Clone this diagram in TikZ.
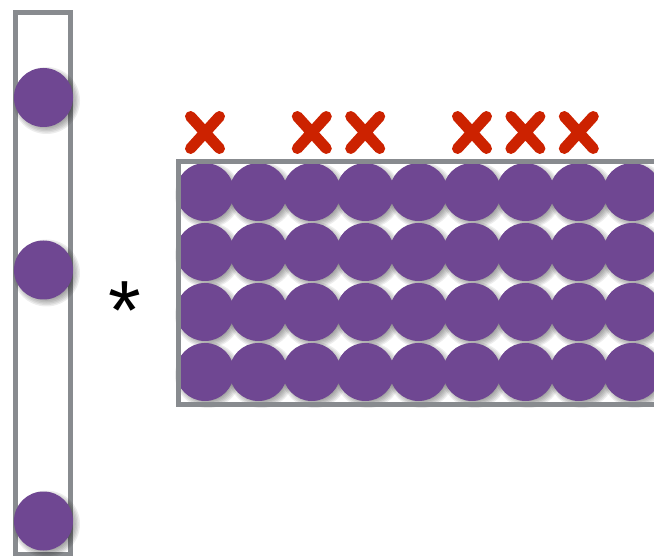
\documentclass[tikz,border=0pt]{standalone}
\usepackage{fontspec}
\newfontfamily\glyphfont{Liberation Sans}
\definecolor{discfill}{RGB}{111,71,146}
\definecolor{framegray}{RGB}{136,139,143}
\definecolor{markred}{RGB}{204,34,0}
\tikzset{
  disc/.style={circle, fill=discfill, inner sep=0pt, minimum size=#1},
  disc/.default=58pt,
  framebox/.style={draw=framegray, line width=5pt},
  strike/.style={draw=markred, line width=11pt, line cap=round},
  shadowlayer/.style={fill=black, opacity=0.07},
}
% soft shadow below right of a disc: stacked translucent circles
\newcommand\discshadow[3]{%
  \foreach \k in {0,...,5}{%
    \fill[shadowlayer] (#1+3,#2+3) circle[radius={(#3+4-1.4*\k)*1pt}];%
  }%
}
\begin{document}
\begin{tikzpicture}[x=1pt, y=-1pt]
  \useasboundingbox (0,0) rectangle (654,556);
  \clip (0,0) rectangle (654,556);

  % column vector
  \draw[framebox] (15.5,12.5) rectangle (70.5,554);
  \foreach \y in {97.5,270,521}{\discshadow{43.5}{\y}{29.5}}
  \node[disc=59pt] (v1) at (43.5,97.5) {};
  \node[disc=59pt] (v2) at (43.5,270) {};
  \node[disc=59pt] (v3) at (43.5,521) {};

  % multiplication sign
  \node[anchor=base, inner sep=0pt, font=\glyphfont\fontsize{84}{84}\selectfont]
    (times) at (125,339.5) {*};

  % matrix of discs
  \foreach \r in {0,...,3}{
    \foreach \c in {0,...,8}{
      \discshadow{205+53.4*\c}{192+60*\r}{29}
    }
  }
  \foreach \r in {0,...,3}{
    \foreach \c in {0,...,8}{
      \node[disc] (m-\r-\c) at (205+53.4*\c,192+60*\r) {};
    }
  }
  \draw[framebox] (178.5,161.5) rectangle (700,404);

  % crossed-out columns
  \foreach \c in {0,2,3,5,6,7}{
    \coordinate (x-\c) at (205+53.4*\c,132.5);
    \draw[strike] ([shift={(-14.5,-16)}]x-\c) -- ([shift={(14.5,16)}]x-\c)
                  ([shift={(-14.5,16)}]x-\c) -- ([shift={(14.5,-16)}]x-\c);
  }
\end{tikzpicture}
\end{document}
